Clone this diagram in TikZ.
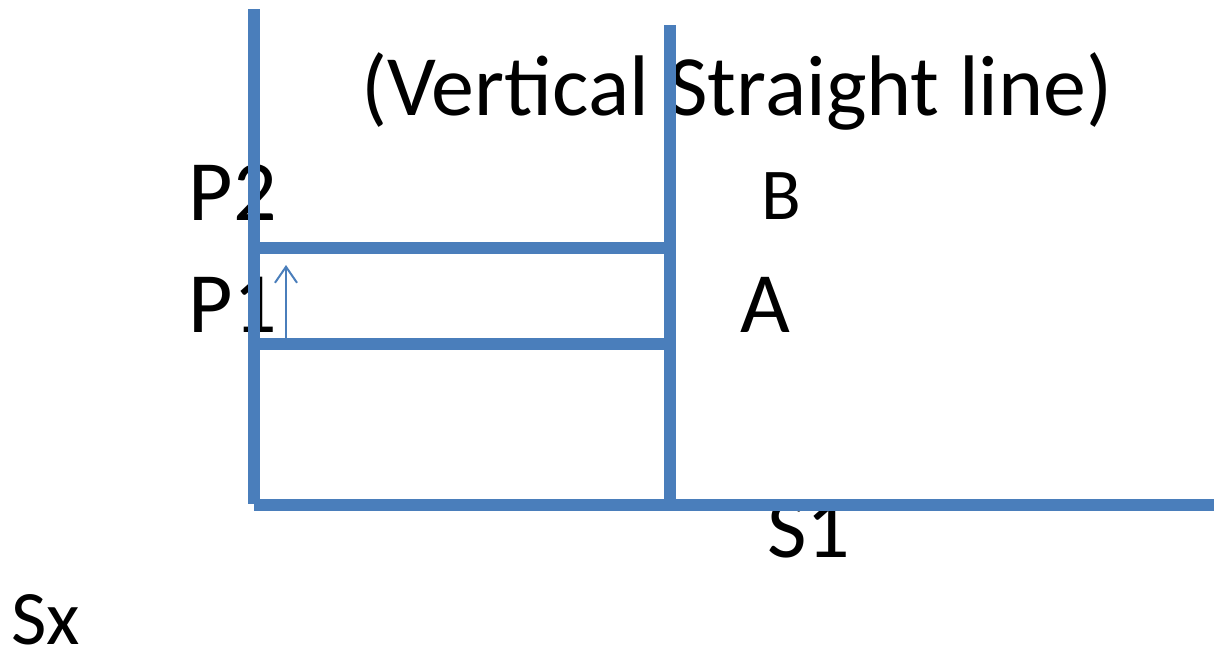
\documentclass[tikz,border=0pt]{standalone}
\usepackage{fontspec}
\setmainfont{Carlito}
\usetikzlibrary{arrows.meta}
\definecolor{lineblue}{HTML}{4A7EBB}

\begin{document}
\begin{tikzpicture}[x=1pt, y=-1pt]
	\tikzstyle{curve} = [line width=12pt, draw=lineblue]
	\tikzstyle{label} = [inner sep=0pt, anchor=base, font=\fontsize{86}{86}\selectfont]
	\tikzstyle{small} = [label, font=\fontsize{73}{73}\selectfont]

	\useasboundingbox (0,0) rectangle (1214,654);

	\node[label] (title) at (737,115) {(Vertical Straight line)};

	\foreach \text/\x/\y in {P2/233/220, P1/233/332, A/765/332, S1/809/557}
		\node[label] (\text) at (\x, \y) {\text};

	\node[small] (B) at (781,219) {B};
	\node[small, font=\fontsize{77}{77}\selectfont] (Sx) at (46,644) {Sx};

	% axes and curves
	\coordinate (ytop) at (254,9);
	\coordinate (ybot) at (254,504);
	\coordinate (xleft) at (254,505);
	\coordinate (xright) at (1214,505);
	\coordinate (vtop) at (670,25);
	\coordinate (vbot) at (670,505);

	\coordinate (p2) at (254,248);
	\coordinate (a2) at (670,248);
	\coordinate (p1) at (254,344);
	\coordinate (a1) at (670,344);

	\foreach \from/\to in {ytop/ybot, xleft/xright, vtop/vbot, p2/a2, p1/a1}
		\draw[curve] (\from) -- (\to);

	\coordinate (shiftlow) at (286,344);
	\coordinate (shifthigh) at (286,265);
	\draw[lineblue, line width=2pt, -{Straight Barb[length=16pt, width=22pt]}] (shiftlow) -- (shifthigh);

\end{tikzpicture}
\end{document}
